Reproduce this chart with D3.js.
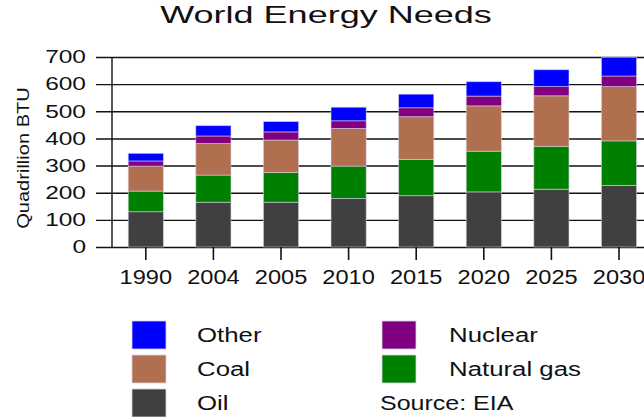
<!DOCTYPE html>
<html>
<head>
<meta charset="utf-8">
<script src="https://cdn.jsdelivr.net/npm/d3@7"></script>
<style>
  body { margin: 0; background: #fff; }
  text { font-family: "Liberation Sans", Arial, sans-serif; fill: #111; }
</style>
</head>
<body>
<div id="chart"></div>
<script>
// data (quadrillion BTU)
var years   = ["1990","2004","2005","2010","2015","2020","2025","2030"];
var oil     = [130, 165, 165, 179, 189, 203, 213, 227];
var gas     = [ 76, 100, 109, 119, 134, 150, 158, 164];
var coal    = [ 92, 116, 120, 139, 157, 167, 186, 200];
var nuclear = [ 19,  28,  30,  28,  33,  36,  34,  39];
var other   = [ 28,  38,  38,  50,  50,  53,  62,  68];
var yTicks  = [0, 100, 200, 300, 400, 500, 600, 700];

var keys = ["Oil", "Natural gas", "Coal", "Nuclear", "Other"];
function segColor(c){ return {"Oil":"#404040","Natural gas":"#008000","Coal":"#b07050","Nuclear":"#800080","Other":"#0000ff"}[c]; }

var table = years.map(function(y, i){
    return {year: y, "Oil": oil[i], "Natural gas": gas[i], "Coal": coal[i], "Nuclear": nuclear[i], "Other": other[i]};
});

var W = 644, H = 417;
var svg = d3.select("#chart").append("svg").attr("width", W).attr("height", H);

// stretch text horizontally, the original font is wide
function stretch(sel, k){
    sel.each(function(){
        var n = this.getComputedTextLength();
        d3.select(this).attr("textLength", n * k).attr("lengthAdjust", "spacingAndGlyphs");
    });
}

var x = d3.scaleBand().domain(years).range([112, 652.8]).paddingInner(0.48).paddingOuter(0.24);
var y = d3.scaleLinear().domain([0, 700]).range([247, 57]);

// title
svg.append("text").attr("x", 326).attr("y", 23).attr("text-anchor", "middle")
    .style("font-size", "24px").text("World Energy Needs").call(stretch, 1.5);

// gridlines + y axis
var yAxis = svg.append("g").attr("transform", "translate(112,0)")
    .call(d3.axisLeft(y).tickValues(yTicks).tickSize(16).tickPadding(10).tickFormat(d3.format("d")));
yAxis.select(".domain").remove();
yAxis.selectAll(".tick line").attr("x2", W).attr("x1", -16).attr("stroke", "#111").attr("stroke-width", 1.4);
yAxis.selectAll(".tick text").style("font-size", "18px").attr("fill", "#111").call(stretch, 1.36);
svg.append("line").attr("x1", 112).attr("x2", 112).attr("y1", y(700)).attr("y2", y(0))
    .attr("stroke", "#111").attr("stroke-width", 1.4);

// y label
svg.append("text").attr("transform", "translate(29,158) rotate(-90)").attr("text-anchor", "middle")
    .style("font-size", "17px").text("Quadrillion BTU").call(stretch, 1.18);

// stacked bars
var stack = d3.stack().keys(keys);
svg.append("g").selectAll("g").data(stack(table)).enter().append("g")
    .attr("fill", function(d){ return segColor(d.key); })
  .selectAll("rect").data(function(d){ return d; }).enter().append("rect")
    .attr("x", function(d){ return x(d.data.year); })
    .attr("y", function(d){ return y(d[1]); })
    .attr("width", x.bandwidth())
    .attr("height", function(d){ return y(d[0]) - y(d[1]); })
    .attr("stroke", "#d8d0e8").attr("stroke-width", 0.8).attr("stroke-opacity", 0.7);

// x axis (ticks only)
var xAxis = svg.append("g").attr("transform", "translate(0,247)")
    .call(d3.axisBottom(x).tickSize(13).tickPadding(10));
xAxis.select(".domain").remove();
xAxis.selectAll(".tick line").attr("stroke", "#111").attr("stroke-width", 1.6);
xAxis.selectAll(".tick text").style("font-size", "20px").attr("fill", "#111").call(stretch, 1.18);

// legend
var legItems = [
    {k: "Other", col: 0, row: 0}, {k: "Coal", col: 0, row: 1}, {k: "Oil", col: 0, row: 2},
    {k: "Nuclear", col: 1, row: 0}, {k: "Natural gas", col: 1, row: 1}
];
var leg = svg.append("g").selectAll("g").data(legItems).enter().append("g")
    .attr("transform", function(d){ return "translate(" + (d.col ? 382 : 132) + "," + (321 + d.row * 34) + ")"; });
leg.append("rect").attr("width", 34).attr("height", 28)
    .attr("fill", function(d){ return segColor(d.k); })
    .attr("stroke", "#d8d0e8").attr("stroke-width", 0.8);
leg.append("text").attr("x", function(d){ return d.col ? 67 : 65; }).attr("y", 14).attr("dy", "0.35em")
    .style("font-size", "20px").text(function(d){ return d.k; }).call(stretch, 1.29);

svg.append("text").attr("x", 380).attr("y", 403).attr("dy", "0.35em")
    .style("font-size", "20px").text("Source: EIA").call(stretch, 1.25);
</script>
</body>
</html>
